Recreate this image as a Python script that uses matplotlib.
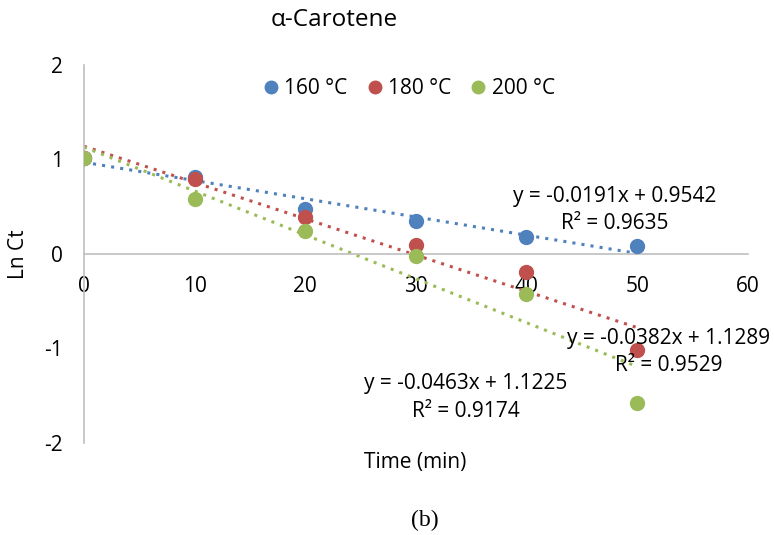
import numpy as np
import matplotlib
matplotlib.use('Agg')
import matplotlib.pyplot as plt

time_min = [0, 10, 20, 30, 40, 50]
series_labels = ["160 °C", "180 °C", "200 °C"]
ln_ct_160 = [1.02, 0.82, 0.48, 0.35, 0.18, 0.08]
ln_ct_180 = [1.02, 0.79, 0.39, 0.095, -0.19, -1.02]
ln_ct_200 = [1.02, 0.58, 0.24, -0.02, -0.42, -1.58]
eq_texts = ["y = -0.0191x + 0.9542\nR² = 0.9635",
            "y = -0.0382x + 1.1289\nR² = 0.9529",
            "y = -0.0463x + 1.1225\nR² = 0.9174"]
colors = ["#4F81BD", "#C0504D", "#9BBB59"]

plt.rcParams['font.family'] = ['Open Sans', 'DejaVu Sans']
plt.rcParams['axes.unicode_minus'] = False
fs = 15

fig = plt.figure(figsize=(7.74, 5.35), dpi=100)
ax = fig.add_axes([0.1085, 0.172, 0.8575, 0.7065])

x = np.array(time_min, dtype=float)
for ys, lab, c in zip([ln_ct_160, ln_ct_180, ln_ct_200], series_labels, colors):
    ax.plot(x, ys, 'o', color=c, ms=10, label=lab, zorder=3)
    k, b = np.polyfit(x, ys, 1)
    ax.plot(x[[0, -1]], k * x[[0, -1]] + b, linestyle=(0, (1, 2)), color=c, lw=2.2, zorder=2)

# equation label centres (data coords)
eq_pos = [(48.0, 0.466), (52.85, -1.037), (34.5, -1.52)]
for (ex, ey), t in zip(eq_pos, eq_texts):
    ax.text(ex, ey, t, ha='center', va='center', fontsize=fs, linespacing=1.4)

ax.set_xlim(0, 60)
ax.set_ylim(-2, 2)
ax.set_xticks(range(0, 61, 10))
ax.set_yticks([-2, -1, 0, 1, 2])
ax.spines['bottom'].set_position(('data', 0))
ax.spines['top'].set_visible(False)
ax.spines['right'].set_visible(False)
for s in ['left', 'bottom']:
    ax.spines[s].set_color('#BFBFBF')
    ax.spines[s].set_linewidth(1.2)
ax.tick_params(length=0, labelsize=fs)
ax.tick_params(axis='y', pad=15)
ax.tick_params(axis='x', pad=16)

ax.set_ylabel("Ln Ct", fontsize=fs)
ax.yaxis.set_label_coords(-0.083, 0.5)
fig.text(0.537, 0.135, "Time (min)", ha='center', va='center', fontsize=fs)
fig.text(0.432, 0.962, "α-Carotene", ha='center', va='center', fontsize=17.5)
fig.text(0.549, 0.028, "(b)", ha='center', va='center', fontsize=17,
         family=['Liberation Serif', 'DejaVu Serif'])

ax.legend(loc='center', bbox_to_anchor=(0.528, (535 - 89) / 535), bbox_transform=fig.transFigure,
          ncol=3, frameon=False, fontsize=fs, handlelength=0.8, handletextpad=0.25,
          columnspacing=0.9, markerscale=0.9)

fig.savefig("out.png", dpi=100)
